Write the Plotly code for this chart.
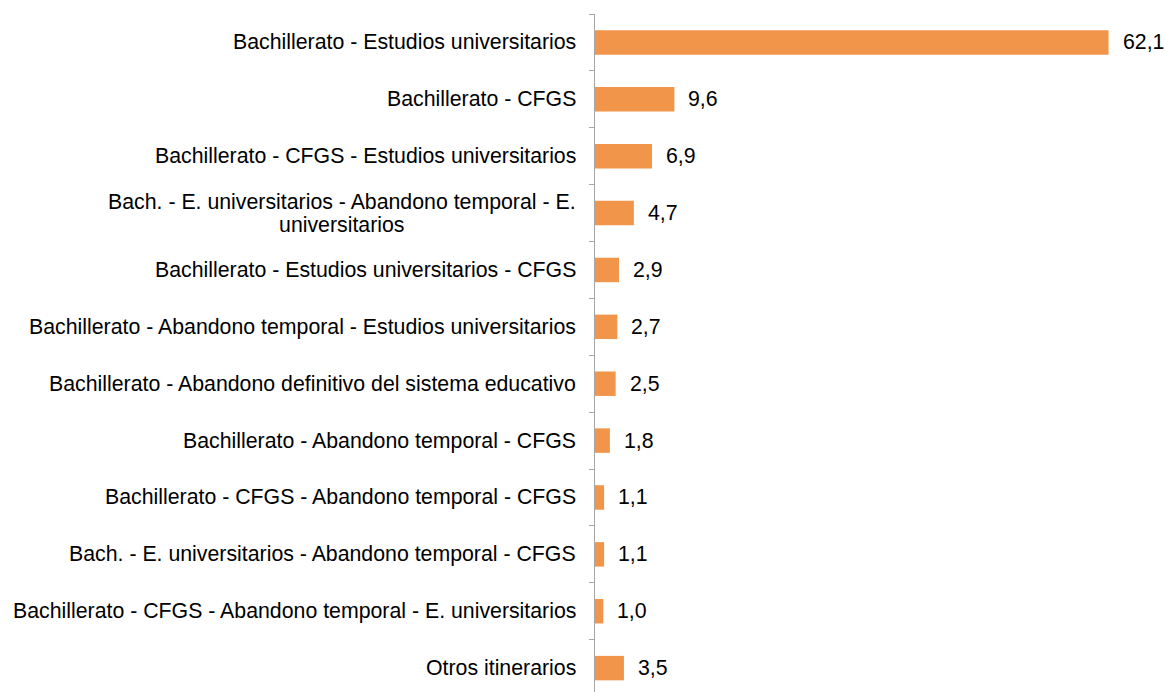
import plotly.graph_objects as go

categories = [
    "Bachillerato - Estudios universitarios",
    "Bachillerato - CFGS",
    "Bachillerato - CFGS - Estudios universitarios",
    "Bach. - E. universitarios - Abandono temporal - E.<br>universitarios",
    "Bachillerato - Estudios universitarios - CFGS",
    "Bachillerato - Abandono temporal - Estudios universitarios",
    "Bachillerato - Abandono definitivo del sistema educativo",
    "Bachillerato - Abandono temporal - CFGS",
    "Bachillerato - CFGS - Abandono temporal - CFGS",
    "Bach. - E. universitarios - Abandono temporal - CFGS",
    "Bachillerato - CFGS - Abandono temporal - E. universitarios",
    "Otros itinerarios",
]
values = [62.1, 9.6, 6.9, 4.7, 2.9, 2.7, 2.5, 1.8, 1.1, 1.1, 1.0, 3.5]

BAR_COLOR = "#F0954A"
FONT = "Liberation Sans, Arial, sans-serif"
FSIZE = 21.3
LINE_GAP = 23.4

W, H = 1165, 692
AXIS_X = 594.5
PX_PER_UNIT = 8.277

fig = go.Figure()
fig.add_trace(go.Bar(
    x=values, y=categories, orientation="h",
    marker=dict(color=BAR_COLOR, line=dict(width=0)),
    width=0.43, hoverinfo="x+y",
))

annotations = []
for c, v in zip(categories, values):
    lines = c.split("<br>")
    if len(lines) > 1:
        # smaller base size sets a tighter line spacing; spans keep glyph size
        txt = "<br>".join(f"<span style='font-size:{FSIZE}px'>{ln}</span>" for ln in lines)
        base = LINE_GAP / 1.3
    else:
        txt, base = c, FSIZE
    annotations.append(dict(
        x=0, y=c, xref="x", yref="y", text=txt, showarrow=False,
        xanchor="right", yanchor="middle", align="center", xshift=-17,
        font=dict(family=FONT, size=base, color="#000000"),
    ))
    annotations.append(dict(
        x=v, y=c, xref="x", yref="y", text=f"{v:.1f}".replace(".", ","),
        showarrow=False, xanchor="left", yanchor="middle", xshift=12,
        font=dict(family=FONT, size=FSIZE, color="#000000"),
    ))

fig.update_layout(
    width=W, height=H,
    margin=dict(l=AXIS_X, r=15, t=13.5, b=0),
    paper_bgcolor="white", plot_bgcolor="white",
    showlegend=False,
    annotations=annotations,
    xaxis=dict(range=[0, (W - 15 - AXIS_X) / PX_PER_UNIT], visible=False, fixedrange=True),
    yaxis=dict(
        type="category", categoryorder="array", categoryarray=categories,
        range=[11.42, -0.5],
        showticklabels=False, showgrid=False, zeroline=False,
        showline=True, linecolor="#A6A6A6", linewidth=1,
        ticks="outside", tickson="boundaries", ticklen=5, tickcolor="#A6A6A6",
        fixedrange=True,
    ),
)

fig.write_html(
    "out.html",
    config={"displayModeBar": False},
    post_script="document.body.style.margin='0';document.body.style.overflow='hidden';",
)
